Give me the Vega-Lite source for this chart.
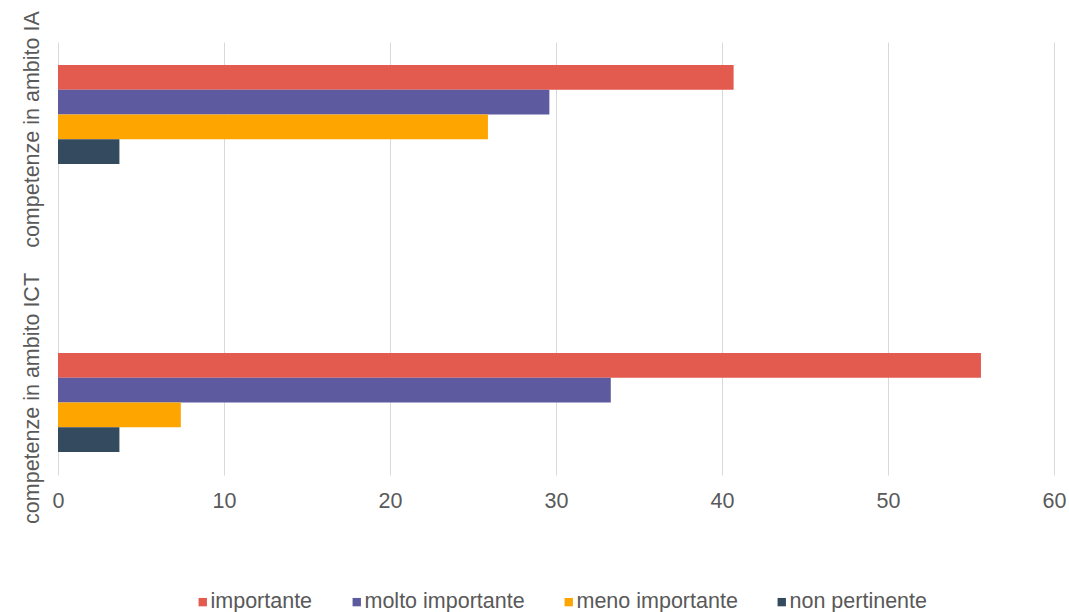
{
  "$schema": "https://vega.github.io/schema/vega-lite/v6.json",
  "width": 996,
  "height": 433,
  "autosize": {"type": "none"},
  "padding": {"left": 58, "top": 42, "right": 15, "bottom": 137},
  "background": "#ffffff",
  "config": {
    "font": "Liberation Sans",
    "view": {"stroke": null}
  },
  "data": {
    "values": [
      {"ambito": "competenze in ambito IA", "risposta": "importante", "percentuale": 40.7},
      {"ambito": "competenze in ambito IA", "risposta": "molto importante", "percentuale": 29.6},
      {"ambito": "competenze in ambito IA", "risposta": "meno importante", "percentuale": 25.9},
      {"ambito": "competenze in ambito IA", "risposta": "non pertinente", "percentuale": 3.7},
      {"ambito": "competenze in ambito ICT", "risposta": "importante", "percentuale": 55.6},
      {"ambito": "competenze in ambito ICT", "risposta": "molto importante", "percentuale": 33.3},
      {"ambito": "competenze in ambito ICT", "risposta": "meno importante", "percentuale": 7.4},
      {"ambito": "competenze in ambito ICT", "risposta": "non pertinente", "percentuale": 3.7}
    ]
  },
  "mark": {"type": "bar"},
  "encoding": {
    "y": {
      "field": "ambito",
      "type": "nominal",
      "sort": ["competenze in ambito IA", "competenze in ambito ICT"],
      "scale": {"paddingInner": 0.656, "paddingOuter": 0.08},
      "axis": {
        "title": null,
        "domain": false,
        "ticks": false,
        "grid": false,
        "labelAngle": -90,
        "labelAlign": "center",
        "labelBaseline": "bottom",
        "labelPadding": 15,
        "labelFontSize": 21.5,
        "labelColor": "#595959",
        "labelLimit": 400,
        "labelOffset": {"condition": {"test": "datum.value === 'competenze in ambito IA'", "value": 15}, "value": -4}
      }
    },
    "yOffset": {
      "field": "risposta",
      "type": "nominal",
      "sort": ["importante", "molto importante", "meno importante", "non pertinente"],
      "scale": {"paddingInner": 0, "paddingOuter": 0}
    },
    "x": {
      "field": "percentuale",
      "type": "quantitative",
      "scale": {"domain": [0, 60], "nice": false},
      "axis": {
        "title": null,
        "values": [0, 10, 20, 30, 40, 50, 60],
        "domain": false,
        "ticks": false,
        "grid": true,
        "gridColor": "#d9d9d9",
        "gridWidth": 1,
        "labelPadding": 15,
        "labelFontSize": 21.5,
        "labelColor": "#595959",
        "labelFlush": false
      }
    },
    "color": {
      "field": "risposta",
      "type": "nominal",
      "sort": ["importante", "molto importante", "meno importante", "non pertinente"],
      "scale": {
        "domain": ["importante", "molto importante", "meno importante", "non pertinente"],
        "range": ["#E35B4F", "#5E5A9F", "#FFA500", "#344A5F"]
      },
      "legend": {
        "title": null,
        "orient": "none",
        "direction": "horizontal",
        "legendX": 134,
        "legendY": 549,
        "symbolType": "square",
        "symbolSize": 70,
        "symbolStrokeWidth": 0,
        "labelFontSize": 21.5,
        "labelColor": "#595959",
        "labelOffset": -3,
        "columnPadding": 33,
        "labelLimit": 400
      }
    }
  }
}
